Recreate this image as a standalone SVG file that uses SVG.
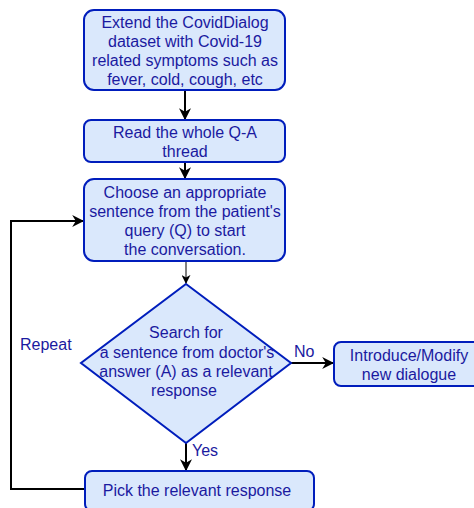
<svg xmlns="http://www.w3.org/2000/svg" width="474" height="508" viewBox="0 0 474 508">
<defs>
<style>
.box{fill:#dae8fc;stroke:#001dbc;stroke-width:2}
.t{font-family:"Liberation Sans",Arial,sans-serif;font-size:16px;fill:#1a1aa0;text-anchor:middle}
.tl{font-family:"Liberation Sans",Arial,sans-serif;font-size:16px;fill:#1a1aa0}
.e{fill:none;stroke:#000;stroke-width:2}
.e1{fill:none;stroke:#000;stroke-width:1}
</style>
<marker id="ah" viewBox="0 0 10 10" refX="9" refY="5" markerWidth="6" markerHeight="6" orient="auto" markerUnits="strokeWidth">
<path d="M0,0 L10,5 L0,10 L3,5 Z" fill="#000"/>
</marker>
<marker id="ah1" viewBox="0 0 10 10" refX="9" refY="5" markerWidth="9" markerHeight="9" orient="auto" markerUnits="strokeWidth">
<path d="M0,0 L10,5 L0,10 L3,5 Z" fill="#000"/>
</marker>
</defs>
<g id="connectors">
<path class="e" d="M185,90 V119" marker-end="url(#ah)"/>
<path class="e" d="M185,162 V178" marker-end="url(#ah)"/>
<path class="e1" d="M186,261 V283" marker-end="url(#ah1)"/>
<path class="e" d="M291,363 H333" marker-end="url(#ah)"/>
<path class="e" d="M186,443 V470" marker-end="url(#ah)"/>
<path class="e" d="M85,489 H11 V221 H83" marker-end="url(#ah)"/>
<text class="tl" x="20" y="350">Repeat</text>
<text class="tl" x="294" y="357">No</text>
<text class="tl" x="192" y="456">Yes</text>
</g>
<g id="n1">
<rect class="box" x="84" y="10" width="201" height="80" rx="10"/>
<text class="t" x="185" y="28">Extend the CovidDialog</text>
<text class="t" x="185" y="47">dataset with Covid-19</text>
<text class="t" x="185" y="66">related symptoms such as</text>
<text class="t" x="185" y="85">fever, cold, cough, etc</text>
</g>
<g id="n2">
<rect class="box" x="84" y="120" width="201" height="42" rx="7"/>
<text class="t" x="185" y="138">Read the whole Q-A</text>
<text class="t" x="185" y="157">thread</text>
</g>
<g id="n3">
<rect class="box" x="84" y="179" width="201" height="82" rx="10"/>
<text class="t" x="185" y="198">Choose an appropriate</text>
<text class="t" x="185" y="217">sentence from the patient's</text>
<text class="t" x="185" y="236">query (Q) to start</text>
<text class="t" x="185" y="255">the conversation.</text>
</g>
<g id="n4">
<polygon class="box" points="186,284 291,363 186,443 81,363"/>
<text class="t" x="186" y="338">Search for</text>
<text class="t" x="187" y="358">a sentence from doctor's</text>
<text class="t" x="186" y="377">answer (A) as a relevant</text>
<text class="t" x="184" y="396">response</text>
</g>
<g id="n5">
<rect class="box" x="334" y="342" width="150" height="44" rx="7"/>
<text class="t" x="409" y="361">Introduce/Modify</text>
<text class="t" x="409" y="380">new dialogue</text>
</g>
<g id="n6">
<rect class="box" x="85" y="471" width="229" height="40" rx="7"/>
<text class="t" x="197" y="496">Pick the relevant response</text>
</g>
</svg>
